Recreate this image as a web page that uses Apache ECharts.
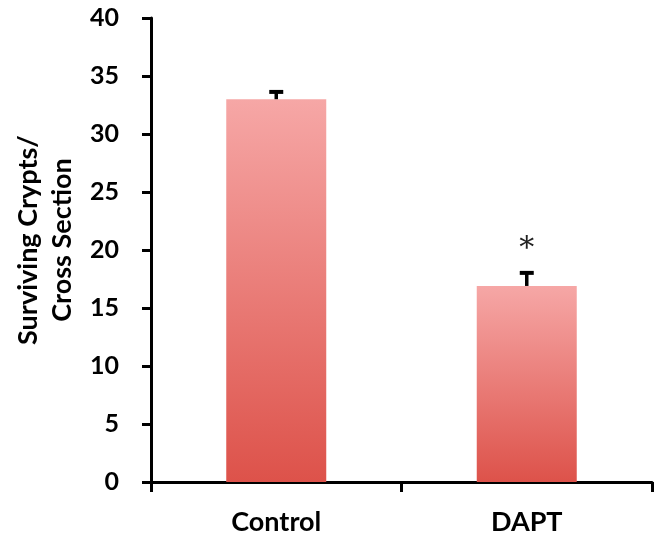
<!DOCTYPE html>
<html lang="en">
<head>
	<meta charset="UTF-8">
	<title>Surviving Crypts</title>
	<script src="https://cdn.jsdelivr.net/npm/echarts@6/dist/echarts.min.js"></script>
	<style>
		html, body { margin: 0; padding: 0; background: #fff; }
		#chart { width: 657px; height: 545px; }
	</style>
</head>
<body>
	<div id="chart"></div>
	<script>
		// 数据
		var categories = ['Control', 'DAPT'];
		var means = [33.0, 16.9];
		var errors = [0.8, 1.3];
		var marks = ['', '*'];
		var yTicks = [0, 5, 10, 15, 20, 25, 30, 35, 40];

		var barGradient = new echarts.graphic.LinearGradient(0, 0, 0, 1, [
			{ offset: 0, color: '#f6a7a6' },
			{ offset: 1, color: '#dd524a' }
		]);

		var errData = categories.map(function (c, i) {
			return [i, means[i], means[i] + errors[i], marks[i]];
		});

		var myChart = echarts.init(document.getElementById('chart'));
		myChart.setOption({
			animation: false,
			grid: { left: 151, right: 5, top: 18, bottom: 63 },
			xAxis: {
				type: 'category',
				data: categories,
				axisLine: { lineStyle: { color: '#000', width: 3 } },
				axisTick: { show: true, length: 10, lineStyle: { color: '#000', width: 3 } },
				axisLabel: { color: '#000', fontFamily: 'Lato', fontWeight: 'bold', fontSize: 27, margin: 27 }
			},
			yAxis: {
				type: 'value',
				min: yTicks[0],
				max: yTicks[yTicks.length - 1],
				interval: 5,
				name: 'Surviving Crypts/\nCross Section',
				nameLocation: 'middle',
				nameGap: 69,
				nameTextStyle: {
					color: '#000', fontFamily: 'Lato', fontWeight: 'bold',
					fontSize: 27, lineHeight: 34, padding: [0, 0, 0, 20]
				},
				splitLine: { show: false },
				axisLine: { show: true, lineStyle: { color: '#000', width: 3 } },
				axisTick: { show: true, length: 9, lineStyle: { color: '#000', width: 3 } },
				axisLabel: { color: '#000', fontFamily: 'Lato', fontWeight: 'bold', fontSize: 25, margin: 32 }
			},
			series: [
				{
					type: 'bar',
					data: means,
					barWidth: 100,
					itemStyle: { color: barGradient }
				},
				{
					type: 'custom',
					data: errData,
					z: 10,
					renderItem: function (params, api) {
						var base = api.coord([api.value(0), api.value(1)]);
						var top = api.coord([api.value(0), api.value(2)]);
						var children = [
							{ type: 'line', shape: { x1: base[0], y1: base[1], x2: top[0], y2: top[1] + 2 },
								style: { stroke: '#000', lineWidth: 3.5 } },
							{ type: 'line', shape: { x1: top[0] - 7, y1: top[1] + 2, x2: top[0] + 7, y2: top[1] + 2 },
								style: { stroke: '#000', lineWidth: 4 } }
						];
						var mark = errData[params.dataIndex][3];
						if (mark) {
							children.push({
								type: 'text',
								style: {
									text: mark, x: top[0], y: top[1] - 22,
									fill: '#222', font: '30px "DejaVu Serif"',
									align: 'center', verticalAlign: 'middle'
								}
							});
						}
						return { type: 'group', children: children };
					}
				}
			]
		});
	</script>
</body>
</html>
